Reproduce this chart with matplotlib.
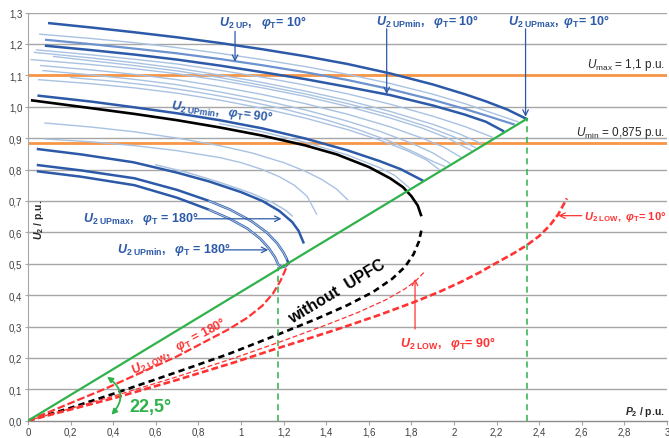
import matplotlib
matplotlib.use("Agg")
import matplotlib.pyplot as plt
from matplotlib.patches import FancyArrowPatch

plt.rcParams['font.family'] = ['Liberation Sans', 'DejaVu Sans']
plt.rcParams['mathtext.fontset'] = 'custom'
plt.rcParams['mathtext.it'] = 'Liberation Sans:italic:bold'
plt.rcParams['mathtext.rm'] = 'Liberation Sans:bold'
plt.rcParams['mathtext.bf'] = 'Liberation Sans:bold'
plt.rcParams['mathtext.sf'] = 'Liberation Sans'
plt.rcParams['mathtext.cal'] = 'Liberation Sans:italic'

# ---------------- data (P2 / p.u., U2 / p.u.) ----------------
x_ticks = [0, 0.2, 0.4, 0.6, 0.8, 1.0, 1.2, 1.4, 1.6, 1.8, 2.0, 2.2, 2.4, 2.6, 2.8, 3.0]
x_tick_labels = ['0', '0,2', '0,4', '0,6', '0,8', '1', '1,2', '1,4', '1,6', '1,8',
                 '2', '2,2', '2,4', '2,6', '2,8', '3']
y_ticks = [0.0, 0.1, 0.2, 0.3, 0.4, 0.5, 0.6, 0.7, 0.8, 0.9, 1.0, 1.1, 1.2, 1.3]
y_tick_labels = ['0,0', '0,1', '0,2', '0,3', '0,4', '0,5', '0,6', '0,7', '0,8', '0,9',
                 '1,0', '1,1', '1,2', '1,3']

u_max_level = 1.1
u_min_level = 0.885

green_P = [0.0, 2.341]
green_U = [0.0, 0.961]
vline_left_P = 1.175
vline_left_top = 0.489
vline_right_P = 2.341
vline_right_top = 0.961

# black curve (without UPFC)
black_up_P = [0.02, 0.3, 0.5, 0.7, 0.9, 1.1, 1.3, 1.45, 1.6, 1.7, 1.76, 1.8, 1.83, 1.845]
black_up_U = [1.02, 0.995, 0.977, 0.957, 0.934, 0.908, 0.877, 0.848, 0.808, 0.772, 0.744,
              0.715, 0.685, 0.655]
black_low_P = [0.0, 0.2, 0.42, 0.7, 0.94, 1.15, 1.35, 1.5, 1.62, 1.71, 1.77, 1.81, 1.835, 1.848]
black_low_U = [0.0, 0.041, 0.09, 0.155, 0.212, 0.268, 0.323, 0.368, 0.41, 0.452, 0.49, 0.53,
               0.57, 0.61]

# thick blue curves, phi_T = 10 deg
up10_max_P = [0.10, 0.3, 0.5, 0.7, 0.9, 1.1, 1.3, 1.5, 1.7, 1.9, 2.05, 2.15, 2.25, 2.341]
up10_max_U = [1.266, 1.252, 1.237, 1.221, 1.203, 1.183, 1.161, 1.136, 1.106, 1.071, 1.040,
              1.017, 0.991, 0.961]
up10_P = [0.085, 0.3, 0.5, 0.7, 0.9, 1.1, 1.3, 1.5, 1.7, 1.9, 2.05, 2.15, 2.28]
up10_U = [1.213, 1.199, 1.185, 1.17, 1.152, 1.132, 1.11, 1.085, 1.056, 1.022, 0.993, 0.972,
          0.944]
up10_min_P = [0.085, 0.3, 0.5, 0.7, 0.9, 1.1, 1.3, 1.5, 1.7, 1.9, 2.05, 2.15, 2.23]
up10_min_U = [1.194, 1.18, 1.166, 1.15, 1.131, 1.11, 1.088, 1.063, 1.037, 1.004, 0.975, 0.952,
              0.923]

# thick blue, phi_T = 90 deg
up90_min_P = [0.05, 0.3, 0.5, 0.7, 0.9, 1.1, 1.3, 1.5, 1.65, 1.75, 1.85]
up90_min_U = [1.035, 1.016, 0.998, 0.979, 0.957, 0.931, 0.899, 0.861, 0.827, 0.801, 0.766]

# phi_T = 180 deg
up180_a_P = [0.047, 0.25, 0.495, 0.7, 0.85, 1.0, 1.1, 1.18, 1.24, 1.27, 1.293]
up180_a_U = [0.865, 0.848, 0.823, 0.79, 0.762, 0.728, 0.7, 0.668, 0.633, 0.605, 0.568]
up180_max_P = [0.6, 0.75, 0.9, 1.05, 1.15, 1.21, 1.24]
up180_max_U = [0.815, 0.79, 0.759, 0.724, 0.694, 0.67, 0.652]
up180_min_out_P = [0.047, 0.25, 0.5, 0.7, 0.85, 0.95, 1.05, 1.12, 1.17, 1.2, 1.215, 1.222]
up180_min_out_U = [0.814, 0.797, 0.772, 0.735, 0.7, 0.672, 0.635, 0.6, 0.565, 0.535, 0.515,
                   0.502]
up180_min_in_P = [0.047, 0.25, 0.5, 0.7, 0.85, 0.95, 1.03, 1.09, 1.13, 1.16, 1.175, 1.19,
                  1.21, 1.222]
up180_min_in_U = [0.794, 0.777, 0.75, 0.71, 0.672, 0.642, 0.612, 0.58, 0.55, 0.52, 0.497,
                  0.489, 0.492, 0.502]
# light inner strokes of the doubled phi_T = 180 deg lines (nose part)
up180_min_out_hl_P = [0.85, 0.95, 1.05, 1.12, 1.17, 1.2, 1.215]
up180_min_out_hl_U = [0.7, 0.672, 0.635, 0.6, 0.565, 0.535, 0.515]
up180_min_in_hl_P = [0.85, 0.95, 1.03, 1.09, 1.13, 1.16, 1.175, 1.19, 1.21]
up180_min_in_hl_U = [0.672, 0.642, 0.612, 0.58, 0.55, 0.52, 0.497, 0.489, 0.492]

# thin light-blue family
thin_T1 = ([0.055, 0.3, 0.5, 0.7, 0.9, 1.1, 1.3, 1.5, 1.7, 1.9, 2.05, 2.2, 2.3],
           [1.231, 1.217, 1.204, 1.188, 1.17, 1.15, 1.128, 1.103, 1.074, 1.04, 1.01, 0.975,
            0.952])
thin_A1 = ([0.04, 0.3, 0.5, 0.7, 0.9, 1.1, 1.3, 1.5, 1.7, 1.9, 2.05, 2.18],
           [1.181, 1.165, 1.151, 1.136, 1.116, 1.094, 1.069, 1.041, 1.008, 0.97, 0.937, 0.903])
thin_A2 = ([0.03, 0.3, 0.5, 0.7, 0.9, 1.1, 1.3, 1.5, 1.7, 1.9, 2.02, 2.13],
           [1.173, 1.155, 1.14, 1.123, 1.101, 1.077, 1.05, 1.02, 0.985, 0.944, 0.915, 0.882])
thin_A2b = ([0.12, 0.3, 0.5, 0.7, 0.9, 1.1, 1.3, 1.5, 1.7, 1.88, 2.0, 2.1],
            [1.16, 1.146, 1.131, 1.114, 1.093, 1.068, 1.041, 1.01, 0.974, 0.935, 0.904, 0.87])
thin_A3 = ([0.015, 0.3, 0.5, 0.7, 0.9, 1.1, 1.3, 1.5, 1.7, 1.85, 1.97, 2.08],
           [1.15, 1.134, 1.121, 1.105, 1.084, 1.06, 1.033, 1.001, 0.964, 0.932, 0.9, 0.861])
thin_A4 = ([0.06, 0.3, 0.5, 0.7, 0.9, 1.1, 1.3, 1.5, 1.7, 1.85, 1.95, 2.03],
           [1.131, 1.117, 1.103, 1.086, 1.064, 1.039, 1.01, 0.976, 0.936, 0.9, 0.872, 0.84])
thin_A5 = ([0.07, 0.3, 0.5, 0.7, 0.9, 1.1, 1.3, 1.5, 1.65, 1.8, 1.9, 1.98],
           [1.115, 1.101, 1.087, 1.07, 1.047, 1.021, 0.99, 0.954, 0.922, 0.884, 0.853, 0.82])
thin_A5b = ([0.2, 0.4, 0.6, 0.8, 1.0, 1.2, 1.4, 1.55, 1.7, 1.82, 1.9, 1.955],
            [1.093, 1.081, 1.066, 1.046, 1.022, 0.993, 0.958, 0.927, 0.89, 0.853, 0.826, 0.81])
thin_A6 = ([0.05, 0.3, 0.5, 0.7, 0.9, 1.1, 1.3, 1.5, 1.65, 1.78, 1.87, 1.93],
           [1.086, 1.073, 1.06, 1.043, 1.021, 0.995, 0.964, 0.927, 0.894, 0.86, 0.831, 0.8])
thin_B0 = ([0.9, 1.1, 1.3, 1.5, 1.65, 1.72, 1.79],
           [0.946, 0.92, 0.887, 0.846, 0.806, 0.782, 0.742])
thin_C1 = ([0.08, 0.3, 0.5, 0.7, 0.9, 1.05, 1.2, 1.3, 1.38, 1.45, 1.5],
           [0.948, 0.935, 0.92, 0.9, 0.876, 0.853, 0.822, 0.795, 0.768, 0.737, 0.704])
thin_C2 = ([0.08, 0.3, 0.5, 0.7, 0.9, 1.0, 1.1, 1.18, 1.25, 1.31, 1.355],
           [0.897, 0.888, 0.876, 0.86, 0.838, 0.822, 0.8, 0.777, 0.75, 0.715, 0.658])

# red lower branches
low10_P = [0.0, 0.42, 0.7, 0.97, 1.15, 1.3, 1.465, 1.65, 1.81, 1.93, 2.03, 2.12, 2.2, 2.28,
           2.34, 2.4, 2.45, 2.49, 2.53]
low10_U = [0.0, 0.075, 0.13, 0.186, 0.226, 0.258, 0.294, 0.337, 0.377, 0.41, 0.441, 0.472,
           0.503, 0.533, 0.558, 0.588, 0.622, 0.658, 0.708]
low90_P = [0.0, 0.42, 0.7, 0.97, 1.2, 1.4, 1.55, 1.68, 1.77, 1.82, 1.86]
low90_U = [0.0, 0.082, 0.14, 0.2, 0.255, 0.305, 0.345, 0.385, 0.42, 0.445, 0.473]
low180_P = [0.0, 0.36, 0.7, 0.939, 1.03, 1.1, 1.15, 1.185, 1.205, 1.222]
low180_U = [0.0, 0.101, 0.205, 0.29, 0.328, 0.366, 0.405, 0.445, 0.475, 0.504]

# ---------------- styling ----------------
BLUE = '#2C5AA8'
LIGHT = '#A9C2E2'
MID = '#6C93CF'
ORANGE = '#F79646'
GREEN = '#2FB24A'
RED = '#FF3333'
GRID = '#A6A6A6'
TXT = '#404040'

fig = plt.figure(figsize=(6.69, 4.39), dpi=100)
ax = fig.add_axes([28 / 669, 17.3 / 439, 639 / 669, 408.2 / 439])
ax.set_xlim(0, 3)
ax.set_ylim(0, 1.3)

for y in y_ticks[1:]:
    ax.axhline(y, color=GRID, lw=1.0, zorder=0)

ax.set_xticks(x_ticks)
ax.set_xticklabels(x_tick_labels)
ax.set_yticks(y_ticks)
ax.set_yticklabels(y_tick_labels)
ax.tick_params(axis='x', length=3, width=0.8, color=GRID, labelsize=7, labelcolor=TXT, pad=1.5)
ax.tick_params(axis='y', length=2, width=0.8, color=GRID, labelsize=7, labelcolor=TXT, pad=2)
for s in ['top', 'right']:
    ax.spines[s].set_visible(False)
ax.spines['left'].set_color(GRID)
ax.spines['bottom'].set_color('#8C8C8C')
ax.spines['left'].set_linewidth(0.8)
ax.spines['bottom'].set_linewidth(1.0)

# orange limits
ax.axhline(u_max_level, color=ORANGE, lw=2.0, zorder=1)
ax.axhline(u_min_level, color=ORANGE, lw=2.0, zorder=1)

# light family
for fam in [thin_T1, thin_A1, thin_A2, thin_A2b, thin_A3, thin_A4, thin_A5, thin_A5b,
            thin_A6, thin_B0, thin_C1, thin_C2]:
    ax.plot(fam[0], fam[1], color=LIGHT, lw=1.0, zorder=2)
ax.plot(up180_max_P, up180_max_U, color=LIGHT, lw=1.1, zorder=2)

# thick blue
ax.plot(up10_max_P, up10_max_U, color=BLUE, lw=1.8, zorder=3)
ax.plot(up10_P, up10_U, color=MID, lw=1.6, zorder=3)
ax.plot(up10_min_P, up10_min_U, color=BLUE, lw=1.8, zorder=3)
ax.plot(up90_min_P, up90_min_U, color=BLUE, lw=1.8, zorder=3)
ax.plot(up180_a_P, up180_a_U, color=BLUE, lw=1.8, zorder=3)
ax.plot(up180_min_out_P, up180_min_out_U, color=BLUE, lw=1.8, zorder=3)
ax.plot(up180_min_in_P, up180_min_in_U, color=BLUE, lw=1.8, zorder=3)
ax.plot(up180_min_out_hl_P, up180_min_out_hl_U, color=LIGHT, lw=0.8, zorder=3)
ax.plot(up180_min_in_hl_P, up180_min_in_hl_U, color=LIGHT, lw=0.8, zorder=3)

# black
ax.plot(black_up_P, black_up_U, color='black', lw=1.9, zorder=4)
ax.plot(black_low_P, black_low_U, color='black', lw=1.9, ls=(0, (2.4, 1.6)), zorder=4)

# red
ax.plot(low10_P, low10_U, color=RED, lw=1.9, ls=(0, (2.6, 1.2)), zorder=4)
ax.plot(low90_P, low90_U, color=RED, lw=0.9, ls=(0, (4, 2)), zorder=4)
ax.plot(low180_P, low180_U, color=RED, lw=1.6, ls=(0, (3.5, 1.3)), zorder=4)

# green
ax.plot(green_P, green_U, color=GREEN, lw=1.6, zorder=5)
ax.plot([vline_left_P, vline_left_P], [0, vline_left_top], color=GREEN, lw=1.1,
        ls=(0, (4, 3)), zorder=5)
ax.plot([vline_right_P, vline_right_P], [0, vline_right_top], color=GREEN, lw=1.1,
        ls=(0, (4, 3)), zorder=5)

arc = FancyArrowPatch((0.36, 0.145), (0.383, 0.012), arrowstyle='<|-|>',
                      mutation_scale=8, connectionstyle='arc3,rad=-0.6',
                      color=GREEN, lw=1.3, zorder=6)
ax.add_patch(arc)
ax.text(0.575, 0.045, '22,5°', color=GREEN, fontsize=13, fontweight='bold',
        ha='center', va='center')

# ---------------- labels ----------------
aprops = dict(arrowstyle='->', color=BLUE, lw=0.9, shrinkA=0, shrinkB=0)
ax.text(1.103, 1.27, r"$U_{2\ \mathrm{UP}},\ \ \varphi_{\mathrm{T}}$= 10°", color=BLUE,
        fontsize=9, fontweight='bold', ha='center', va='center')
ax.annotate('', xy=(0.972, 1.143), xytext=(0.972, 1.24), arrowprops=aprops)
ax.text(1.878, 1.273, r"$U_{2\ \mathrm{UPmin}},\ \ \varphi_{\mathrm{T}}$= 10°", color=BLUE,
        fontsize=9, fontweight='bold', ha='center', va='center')
ax.annotate('', xy=(1.684, 1.04), xytext=(1.684, 1.248), arrowprops=aprops)
ax.text(2.493, 1.273, r"$U_{2\ \mathrm{UPmax}},\ \varphi_{\mathrm{T}}$= 10°", color=BLUE,
        fontsize=9, fontweight='bold', ha='center', va='center')
ax.annotate('', xy=(2.336, 0.968), xytext=(2.336, 1.248), arrowprops=aprops)
ax.text(0.911, 0.986, r"$U_{2\ \mathrm{UPmin}},\ \ \varphi_{\mathrm{T}}$= 90°", color=BLUE,
        fontsize=9, fontweight='bold', ha='center', va='center', rotation=-7)
ax.text(0.528, 0.646, r"$U_{2\ \mathrm{UPmax}},\ \ \varphi_{\mathrm{T}}$ = 180°", color=BLUE,
        fontsize=9, fontweight='bold', ha='center', va='center')
ax.annotate('', xy=(1.19, 0.643), xytext=(0.783, 0.643), arrowprops=aprops)
ax.text(0.683, 0.547, r"$U_{2\ \mathrm{UPmin}},\ \ \varphi_{\mathrm{T}}$ = 180°", color=BLUE,
        fontsize=9, fontweight='bold', ha='center', va='center')
ax.annotate('', xy=(1.128, 0.544), xytext=(0.923, 0.544), arrowprops=aprops)

rprops = dict(arrowstyle='->', color=RED, lw=0.9, shrinkA=0, shrinkB=0)
ax.text(0.71, 0.238, r"$U_{2\ \mathrm{LOW}},\ \ \varphi_{\mathrm{T}}$ = 180°", color=RED,
        fontsize=9, fontweight='bold', ha='center', va='center', rotation=28)
ax.text(1.972, 0.25, r"$U_{2\ \mathrm{LOW}},\ \ \varphi_{\mathrm{T}}$= 90°", color=RED,
        fontsize=9, fontweight='bold', ha='center', va='center')
ax.annotate('', xy=(1.817, 0.452), xytext=(1.817, 0.292), arrowprops=rprops)
ax.text(2.61, 0.653, r"$U_{2\ \mathrm{LOW}},\ \varphi_{\mathrm{T}}$= 10°", color=RED,
        fontsize=8, fontweight='bold', ha='left', va='center')
ax.annotate('', xy=(2.49, 0.653), xytext=(2.6, 0.653), arrowprops=rprops)

ax.text(1.451, 0.413, 'without  UPFC', color='black', fontsize=11.5, fontweight='bold',
        ha='center', va='center', rotation=31)

ax.text(2.99, 1.11, r"$\mathcal{U}_{\mathsf{max}}$ = 1,1 p.u.", color='#262626',
        fontsize=8.5, ha='right', va='bottom')
ax.text(2.99, 0.893, r"$\mathcal{U}_{\mathsf{min}}$ = 0,875 p.u.", color='#262626',
        fontsize=8.5, ha='right', va='bottom')

ax.text(2.99, 0.03, r"$P_{2}$ / p.u.", color='#262626', fontsize=7.5, fontweight='bold',
        ha='right', va='center')
ax.text(0.052, 0.642, r"$U_{2}$ / p.u.", color='#262626', fontsize=7.5, fontweight='bold',
        ha='center', va='center', rotation=90)

fig.savefig('out.png', dpi=100)
